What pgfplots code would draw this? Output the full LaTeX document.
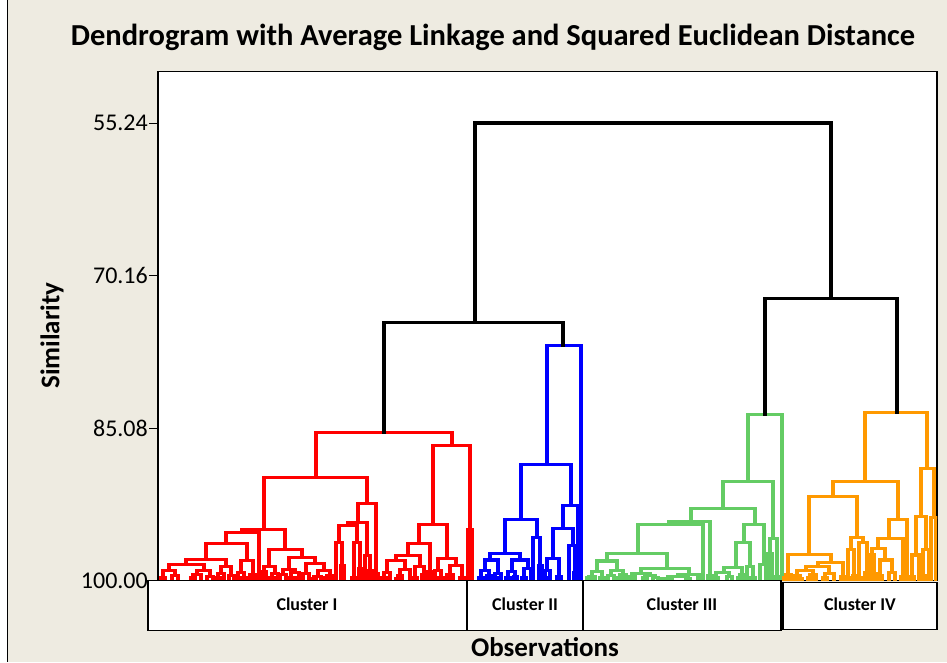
\documentclass[border=0pt]{standalone}
\usepackage{pgfplots}
\usepackage{pgfplotstable}
\usepackage{fontspec}
\setmainfont{Carlito}
\pgfplotsset{compat=1.18}

\definecolor{panel}{RGB}{238,235,225}
\definecolor{cI}{RGB}{255,0,0}
\definecolor{cII}{RGB}{0,0,255}
\definecolor{cIII}{RGB}{100,204,100}
\definecolor{cIV}{RGB}{255,153,0}

% Each row is one merge: left child (xl, yl), right child (xr, yr), merge level h
\pgfplotstableread{
xl   yl     xr   yr     h
475  74.76  831  72.41  55.24
384  85.52  563  77.01  74.76
765  83.76  897  83.60  72.41
}\toplinks

\pgfplotstableread{
xl   yl     xr   yr     h
316  89.89  452  86.79  85.52
264  95.01  367  92.50  89.89
242  95.27  285  96.97  95.01
226  96.41  259  99.60  95.27
206  97.97  247  98.04  96.41
186  98.43  226  98.60  97.97
169  99.02  204  99.00  98.43
163  100    175  99.50  99.02
172  100    178  100    99.50
197  99.40  210  99.60  99.00
193  100    201  100    99.40
207  100    213  100    99.60
221  99.30  231  99.50  98.60
218  100    224  100    99.30
229  100    234  100    99.50
241  99.20  253  99.40  98.04
238  100    244  100    99.20
250  100    256  100    99.40
258  100    261  100    99.60
269  98.60  302  97.75  96.97
264  99.10  275  99.30  98.60
262  100    266  100    99.10
272  100    278  100    99.30
289  98.90  315  98.30  97.75
283  99.40  295  99.20  98.90
280  100    286  100    99.40
291  100    299  99.70  99.20
297  100    301  100    99.70
306  99.30  324  99.00  98.30
303  100    309  100    99.30
318  99.60  330  99.50  99.00
314  100    321  100    99.60
327  100    333  100    99.50
358  94.35  376  99.30  92.50
348  94.60  367  97.55  94.35
339  96.25  357  96.30  94.60
336  100    342  98.50  96.25
341  100    344  100    98.50
354  100    360  98.80  96.30
359  100    362  100    98.80
365  100    370  99.00  97.55
369  100    372  100    99.00
374  100    378  100    99.30
433  94.52  470  95.01  86.79
468  100    472  100    95.01
419  96.41  447  97.85  94.52
408  97.55  430  99.10  96.41
396  98.04  420  98.60  97.55
387  99.20  405  98.90  98.04
384  100    390  100    99.20
400  99.50  410  100    98.90
398  100    402  100    99.50
415  100    424  99.40  98.60
422  100    426  100    99.40
428  100    432  100    99.10
438  99.00  456  98.50  97.85
435  100    441  100    99.00
450  99.40  462  100    98.50
447  100    453  100    99.40
161  100    165  100    99.70
191  100    195  100    99.75
216  100    220  100    99.72
236  100    240  100    99.70
248  100    252  100    99.75
270  100    274  100    99.70
289  100    293  100    99.75
312  100    316  100    99.80
325  100    329  100    99.75
352  100    356  100    99.70
382  100    386  100    99.75
396  100    400  100    99.78
413  100    417  100    99.72
433  100    437  100    99.70
445  100    449  100    99.75
460  100    464  100    99.70
}\clusterI

\pgfplotstableread{
xl   yl     xr   yr     h
547  88.68  581  100    77.01
521  94.03  571  92.66  88.68
505  97.33  537  95.76  94.03
490  98.00  520  98.00  97.33
485  99.00  498  99.30  98.00
481  100    489  99.50  99.00
487  100    491  100    99.50
495  100    501  100    99.30
512  99.10  528  98.80  98.00
508  100    515  99.60  99.10
514  100    517  100    99.60
524  100    531  100    98.80
533  100    540  98.50  95.76
539  100    542  100    98.50
563  94.94  578  100    92.66
553  97.88  573  96.58  94.94
547  99.00  559  100    97.88
545  100    550  100    99.00
569  100    575  99.20  96.58
574  100    576  100    99.20
479  100    483  100    99.70
493  100    497  100    99.75
506  100    510  100    99.70
522  100    526  100    99.75
543  100    547  100    99.70
557  100    561  100    99.60
}\clusterII

\pgfplotstableread{
xl   yl     xr   yr     h
748  90.31  782  100    83.76
723  92.93  773  95.92  90.31
770  97.40  777  100    95.92
768  100    772  100    97.40
691  94.20  755  94.55  92.93
744  96.25  764  98.40  94.55
760  100    766  100    98.40
736  98.70  750  98.60  96.25
724  99.20  742  99.40  98.70
716  100    729  99.60  99.20
727  100    732  100    99.60
740  100    744  100    99.40
747  100    753  100    98.60
669  94.52  710  99.50  94.20
708  100    712  100    99.50
638  97.33  703  100    94.52
607  98.10  667  98.86  97.33
597  99.10  617  99.00  98.10
592  99.60  602  100    99.10
589  100    595  100    99.60
611  99.50  623  99.40  99.00
608  100    614  100    99.50
620  100    626  100    99.40
641  99.30  689  99.40  98.86
632  99.60  650  99.50  99.30
629  100    635  100    99.60
645  100    655  99.70  99.50
653  100    658  100    99.70
678  99.60  700  100    99.40
668  99.80  688  100    99.60
664  100    672  100    99.80
587  100    591  100    99.75
600  100    604  100    99.70
618  100    622  100    99.75
627  100    631  100    99.80
643  100    647  100    99.75
662  100    666  100    99.85
686  100    690  100    99.80
698  100    702  100    99.75
714  100    718  100    99.70
738  100    742  100    99.70
751  100    755  100    99.75
775  100    779  100    99.60
}\clusterIII

\pgfplotstableread{
xl   yl     xr   yr     h
865  90.31  927  89.01  83.60
921  93.71  934  93.80  89.01
916  97.50  926  97.00  93.71
912  100    919  100    97.50
923  100    929  100    97.00
931  100    936  100    93.80
833  91.75  898  94.03  90.31
809  97.46  857  95.76  91.75
788  99.40  831  98.21  97.46
786  100    791  100    99.40
818  98.60  843  100    98.21
806  99.00  829  99.30  98.60
797  99.50  813  99.40  99.00
794  100    800  100    99.50
810  100    816  100    99.40
825  100    834  100    99.30
851  97.00  863  96.30  95.76
848  100    854  99.50  97.00
853  100    856  100    99.50
859  100    867  99.20  96.30
865  100    869  100    99.20
889  95.86  907  100    94.03
878  96.90  903  100    95.86
872  97.50  885  98.00  96.90
870  100    874  99.30  97.50
873  100    876  100    99.30
880  99.50  892  99.20  98.00
878  100    882  100    99.50
889  100    895  100    99.20
784  100    788  100    99.70
798  100    802  100    99.80
808  100    812  100    99.75
823  100    827  100    99.70
841  100    845  100    99.60
846  100    850  100    99.75
857  100    861  100    99.70
901  100    905  100    99.60
910  100    914  100    99.60
927  100    931  100    99.50
}\clusterIV

% Draws every merge of a table as a bracket: two drops and one crossbar
\newcommand{\links}[2]{%
  \addplot[#2, quiver={u=0, v={\thisrow{h}-\thisrow{yl}}}] table[x=xl, y=yl] {#1};
  \addplot[#2, quiver={u={\thisrow{xr}-\thisrow{xl}}, v=0}] table[x=xl, y=h] {#1};
  \addplot[#2, quiver={u=0, v={\thisrow{yr}-\thisrow{h}}}] table[x=xr, y=h] {#1};
}

\begin{document}
\begin{tikzpicture}[x=1pt, y=1pt]
  \fill[panel] (0,0) rectangle (947,661);
  \fill[white] (0,0) rectangle (7,661);
  \draw[black, line width=1pt] (7.5,0) -- (7.5,661);

  \begin{axis}[
    at={(158pt,81pt)}, anchor=south west,
    scale only axis, width=779pt, height=509pt,
    xmin=158, xmax=937, ymin=50.2, ymax=100,
    y dir=reverse,
    axis background/.style={fill=white},
    axis line style={black, line width=1.2pt},
    xtick=\empty,
    ytick={55.24,70.16,85.08,100},
    yticklabels={55.24,70.16,85.08,100.00},
    ytick pos=left,
    tick align=outside,
    major tick length=9pt,
    ytick style={black, line width=1pt},
    yticklabel style={font=\fontsize{24}{26}\selectfont, inner sep=1pt},
    dendro/.style={line width=3.2pt, line cap=rect},
  ]
    \links{\clusterI}{dendro, cI}
    \links{\clusterII}{dendro, cII}
    \links{\clusterIII}{dendro, cIII}
    \links{\clusterIV}{dendro, cIV}
    \links{\toplinks}{dendro, black}
  \end{axis}

  % cluster captions under the observations
  \begin{scope}[line width=1.3pt, font=\bfseries\fontsize{18}{21}\selectfont]
    \draw[fill=white] (148,81) rectangle (467,31);
    \draw[fill=white] (467,81) rectangle (583,31);
    \draw[fill=white] (583,81) rectangle (781,31);
    \draw[fill=white] (783,79) rectangle (937,32);
    \node at (307,57) {Cluster I};
    \node at (525,57) {Cluster II};
    \node at (682,57) {Cluster III};
    \node at (860,57) {Cluster IV};
  \end{scope}

  \node[font=\bfseries\fontsize{30.5}{34}\selectfont] at (493,624)
    {Dendrogram with Average Linkage and Squared Euclidean Distance};
  \node[font=\bfseries\fontsize{27}{30}\selectfont, rotate=90] at (52,326) {Similarity};
  \node[font=\bfseries\fontsize{27}{30}\selectfont] at (545,14) {Observations};
\end{tikzpicture}
\end{document}
